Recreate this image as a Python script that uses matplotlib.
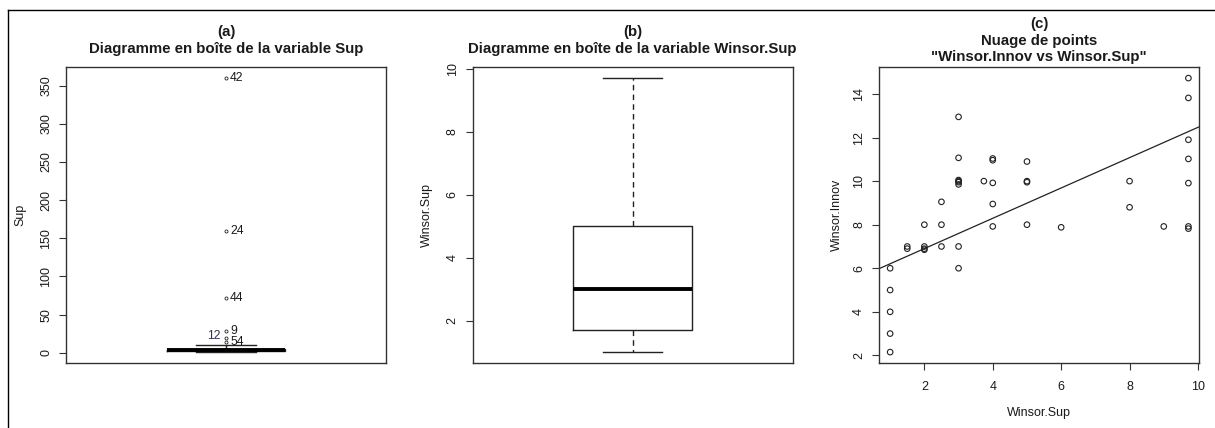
import matplotlib
matplotlib.use("Agg")
import matplotlib.pyplot as plt
from matplotlib.lines import Line2D
import numpy as np

plt.rcParams['font.family'] = ['Liberation Sans', 'DejaVu Sans']

# ---- data ----
# (a) box statistics of Sup
sup_q1, sup_med, sup_q3 = 1.7, 3.0, 5.0
sup_whislo, sup_whishi = 1.0, 10.0
sup_outliers = [14, 20, 29, 72, 160, 360]
sup_outlier_labels = ["54", "12", "9", "44", "24", "42"]

# (b) box statistics of Winsor.Sup
ws_q1, ws_med, ws_q3 = 1.7, 3.0, 5.0
ws_whislo, ws_whishi = 1.0, 9.72

# (c) scatter Winsor.Innov vs Winsor.Sup
winsor_sup = [1, 1, 1, 1, 1,
              1.5, 1.5,
              2, 2, 2, 2,
              2.5, 2.5, 2.5,
              3, 3, 3, 3, 3, 3, 3, 3,
              3.74,
              4, 4, 4, 4, 4,
              5, 5, 5, 5,
              6,
              8, 8,
              9,
              9.72, 9.72, 9.72, 9.72, 9.72, 9.72, 9.72]
winsor_innov = [6.0, 5.0, 4.0, 3.0, 2.15,
                7.0, 6.9,
                8.0, 7.0, 6.9, 6.85,
                9.05, 8.0, 7.0,
                12.95, 11.07, 10.05, 10.0, 9.95, 9.85, 7.0, 6.0,
                10.0,
                11.04, 10.96, 9.92, 8.95, 7.92,
                10.9, 10.0, 9.95, 8.0,
                7.88,
                10.0, 8.8,
                7.92,
                14.73, 13.82, 11.9, 11.02, 9.91, 7.92, 7.82]
fit_intercept, fit_slope = 5.51, 0.696

titles_a = ["(a)", "Diagramme en boîte de la variable Sup"]
titles_b = ["(b)", "Diagramme en boîte de la variable Winsor.Sup"]
titles_c = ["(c)", "Nuage de points", '"Winsor.Innov vs Winsor.Sup"']

W, H = 1215, 428
fig = plt.figure(figsize=(W / 100, H / 100), dpi=100)

# frame lines around the figure panel
fig.add_artist(Line2D([8 / W, 8 / W], [0, 1 - 10 / H], color='black', lw=1.0,
                      transform=fig.transFigure))
fig.add_artist(Line2D([8 / W, 1], [1 - 10 / H, 1 - 10 / H], color='black', lw=1.0,
                      transform=fig.transFigure))

bottom = 1 - 363 / H
height = (363 - 67) / H
ax_a = fig.add_axes([66 / W, bottom, 320 / W, height])
ax_b = fig.add_axes([472.7 / W, bottom, 320 / W, height])
ax_c = fig.add_axes([879 / W, bottom, 320 / W, height])

text_col = '#1a1a1a'
title_fs = 10.8
tick_fs = 9
label_fs = 9


def style(ax):
    for s in ax.spines.values():
        s.set_color('#333333')
        s.set_linewidth(1.0)
    ax.tick_params(direction='out', length=5, width=0.8, colors='#333333',
                   labelsize=tick_fs, labelcolor=text_col, pad=5)


def titles(ax, lines, y_centers):
    xc = (ax.get_position().x0 + ax.get_position().x1) / 2
    for t, yc in zip(lines, y_centers):
        fig.text(xc, 1 - yc / H, t, ha='center', va='center', fontsize=title_fs,
                 fontweight='bold', color=text_col)


def box(ax, q1, med, q3, lo, hi, fliers):
    stats = [dict(med=med, q1=q1, q3=q3, whislo=lo, whishi=hi, fliers=fliers)]
    ax.bxp(stats, positions=[1], widths=0.4, capwidths=0.2, showfliers=True,
           boxprops=dict(color='#222222', lw=1.0),
           medianprops=dict(color='black', lw=2.8, solid_capstyle='butt'),
           whiskerprops=dict(color='#222222', lw=1.0, ls=(0, (4, 3))),
           capprops=dict(color='#222222', lw=1.0),
           flierprops=dict(marker='o', markersize=2.2, markerfacecolor='none',
                           markeredgecolor='#222222', markeredgewidth=0.6))
    ax.set_xlim(0.46, 1.54)
    ax.set_xticks([])


def vertical_yticklabels(ax):
    ax.tick_params(axis='y', labelrotation=90)
    for lab in ax.get_yticklabels():
        lab.set_va('center')


# ---- (a) ----
style(ax_a)
box(ax_a, sup_q1, sup_med, sup_q3, sup_whislo, sup_whishi, sup_outliers)
ax_a.set_ylim(-13.4, 374.4)
ax_a.set_yticks([0, 50, 100, 150, 200, 250, 300, 350])
vertical_yticklabels(ax_a)
ax_a.set_ylabel('Sup', fontsize=label_fs, color=text_col, labelpad=10)
for v, lab in zip(sup_outliers, sup_outlier_labels):
    if lab == "12":
        ax_a.annotate(lab, (1, v), xytext=(-4, 1), textcoords='offset points',
                      ha='right', va='center', fontsize=8.7, color='#333355')
    else:
        ax_a.annotate(lab, (1, v), xytext=(3, 0), textcoords='offset points',
                      ha='left', va='center', fontsize=8.7, color=text_col)
titles(ax_a, titles_a, [32, 49])

# ---- (b) ----
style(ax_b)
box(ax_b, ws_q1, ws_med, ws_q3, ws_whislo, ws_whishi, [])
ax_b.set_ylim(0.65, 10.07)
ax_b.set_yticks([2, 4, 6, 8, 10])
vertical_yticklabels(ax_b)
ax_b.set_ylabel('Winsor.Sup', fontsize=label_fs, color=text_col, labelpad=10)
titles(ax_b, titles_b, [32, 49])

# ---- (c) ----
style(ax_c)
ax_c.scatter(winsor_sup, winsor_innov, s=16, facecolors='none',
             edgecolors='#222222', linewidths=0.8)
ax_c.set_xlim(0.674, 10.03)
ax_c.set_ylim(1.65, 15.24)
xs = np.array(ax_c.get_xlim())
ax_c.plot(xs, fit_intercept + fit_slope * xs, color='#222222', lw=0.9)
ax_c.set_xlim(0.674, 10.03)
ax_c.set_xticks([2, 4, 6, 8, 10])
ax_c.set_yticks([2, 4, 6, 8, 10, 12, 14])
vertical_yticklabels(ax_c)
ax_c.tick_params(axis='x', pad=8)
ax_c.set_xlabel('Winsor.Sup', fontsize=label_fs, color=text_col, labelpad=10)
ax_c.set_ylabel('Winsor.Innov', fontsize=label_fs, color=text_col, labelpad=7)
titles(ax_c, titles_c, [24, 40.5, 57])

fig.savefig('out.png', dpi=100)
